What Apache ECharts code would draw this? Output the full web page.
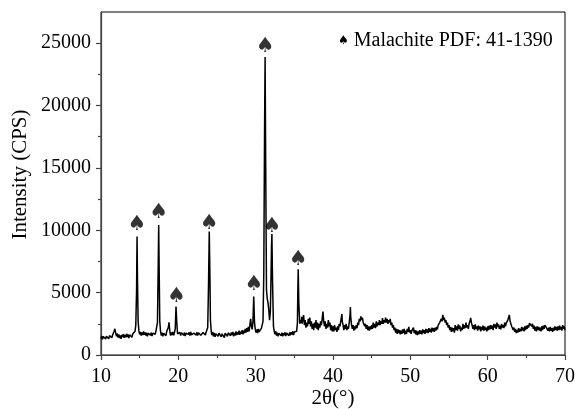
<!DOCTYPE html>
<html>
<head>
<meta charset="utf-8">
<script src="https://cdn.jsdelivr.net/npm/echarts@6/dist/echarts.min.js"></script>
<style>
  html, body { margin: 0; padding: 0; background: #fff; }
  #chart { width: 575px; height: 409px; }
</style>
</head>
<body>
<div id="chart"></div>
<script>
// XRD pattern as [2theta, intensity] pairs
var seg10to20 = [
    [10.0,1300],[10.1,1520],[10.2,1250],[10.3,1480],[10.4,1350],[10.5,1600],[10.6,1280],[10.7,1500],
    [10.8,1380],[10.9,1620],[11.0,1300],[11.1,1550],[11.2,1420],[11.3,1650],[11.4,1380],[11.5,1600],
    [11.6,1700],[11.7,1900],[11.8,2100],[11.9,1750],[12.0,1500],[12.1,1720],[12.2,1400],[12.3,1650],
    [12.4,1350],[12.5,1580],[12.6,1300],[12.7,1620],[12.8,1450],[12.9,1680],[13.0,1380],[13.1,1600],
    [13.2,1420],[13.3,1700],[13.4,1450],[13.5,1650],[13.6,1350],[13.7,1620],[13.8,1480],[13.9,1700],
    [14.0,1420],[14.1,1680],[14.2,1550],[14.3,1750],[14.4,1900],[14.5,2400],[14.6,5200],[14.66,9500],
    [14.72,6000],[14.8,2700],[14.9,1950],[15.0,1650],[15.1,1850],[15.2,1550],[15.3,1800],[15.4,1600],
    [15.5,1900],[15.6,1620],[15.7,1820],[15.8,1550],[15.9,1780],[16.0,1500],[16.1,1750],[16.2,1620],
    [16.3,1850],[16.4,1580],[16.5,1800],[16.6,1520],[16.7,1750],[16.8,1600],[16.9,1880],[17.0,1650],
    [17.1,1900],[17.2,1850],[17.3,2600],[17.4,7200],[17.46,10430],[17.52,7000],[17.6,2700],[17.7,1900],
    [17.8,1550],[17.9,1800],[18.0,1500],[18.1,1750],[18.2,1600],[18.3,1820],[18.4,1550],[18.5,1900],
    [18.6,1800],[18.7,2200],[18.8,2620],[18.9,1900],[19.0,1550],[19.1,1800],[19.2,1600],[19.3,1850],
    [19.4,1580],[19.5,1800],[19.6,2100],[19.7,3880],[19.8,2600],[19.9,1700]
];
var seg20to30 = [
    [20.0,1850],[20.1,1600],[20.2,1820],[20.3,1550],[20.4,1780],[20.5,1620],[20.6,1900],[20.7,1580],
    [20.8,1800],[20.9,1520],[21.0,1750],[21.1,1600],[21.2,1880],[21.3,1650],[21.4,1820],[21.5,1550],
    [21.6,1850],[21.7,1620],[21.8,1780],[21.9,1500],[22.0,1750],[22.1,1650],[22.2,1900],[22.3,1600],
    [22.4,1820],[22.5,1550],[22.6,1780],[22.7,1620],[22.8,1880],[22.9,1580],[23.0,1720],[23.1,1550],
    [23.2,1800],[23.3,1650],[23.4,1900],[23.5,1600],[23.6,1850],[23.7,1750],[23.8,2200],[23.9,5500],
    [24.0,9900],[24.08,6500],[24.15,2800],[24.25,1900],[24.35,1600],[24.45,1850],[24.55,1500],[24.65,1780],
    [24.75,1450],[24.85,1700],[24.95,1550],[25.05,1850],[25.15,1500],[25.25,1750],[25.35,1600],[25.45,1900],
    [25.55,1450],[25.65,1700],[25.75,1550],[25.85,1800],[25.95,1400],[26.05,1750],[26.15,1600],[26.25,1850],
    [26.35,1500],[26.45,1780],[26.55,1620],[26.65,1900],[26.75,1550],[26.85,1800],[26.95,1600],[27.05,1850],
    [27.15,1500],[27.25,1780],[27.35,1550],[27.45,1900],[27.55,1600],[27.65,1820],[27.75,1650],[27.85,1950],
    [27.95,1620],[28.05,1880],[28.15,1700],[28.25,2000],[28.35,1650],[28.45,1950],[28.55,1750],[28.65,2100],
    [28.75,1800],[28.85,2150],[28.95,1850],[29.05,2250],[29.15,1900],[29.25,2400],[29.35,2900],[29.45,2300],
    [29.55,2050],[29.65,2700],[29.75,4680],[29.85,2600],[29.95,2050]
];
var seg30to40 = [
    [30.05,1800],[30.15,2050],[30.25,1750],[30.35,2100],[30.45,1850],[30.55,2000],[30.65,1800],[30.75,2150],
    [30.85,2300],[30.95,2700],[31.05,6500],[31.15,18000],[31.22,23890],[31.3,15000],[31.4,5200],[31.5,4500],
    [31.6,4200],[31.7,3600],[31.8,2800],[31.9,3500],[31.98,6000],[32.05,8800],[32.1,9700],[32.18,6000],
    [32.3,2300],[32.4,1900],[32.5,1650],[32.6,1900],[32.7,1550],[32.8,1800],[32.9,1500],[33.0,1750],
    [33.1,1600],[33.2,1850],[33.3,1550],[33.4,1780],[33.5,1500],[33.6,1750],[33.7,1580],[33.8,1820],
    [33.9,1520],[34.0,1760],[34.1,1600],[34.2,1850],[34.3,1550],[34.4,1800],[34.5,1580],[34.6,1820],
    [34.7,1650],[34.8,1900],[34.9,1600],[35.0,1850],[35.1,1700],[35.2,1950],[35.3,1900],[35.4,2600],
    [35.45,5000],[35.5,6880],[35.58,4200],[35.7,2500],[35.8,2800],[35.9,2600],[35.95,3070],[36.0,2500],
    [36.1,2900],[36.2,3200],[36.3,2400],[36.4,2800],[36.5,2200],[36.6,2600],[36.7,2300],[36.8,2900],
    [36.9,2500],[37.0,3000],[37.1,2300],[37.2,2700],[37.3,2100],[37.4,2500],[37.5,2000],[37.6,2600],
    [37.7,2200],[37.8,2800],[37.9,2100],[38.0,2600],[38.1,2000],[38.2,2500],[38.3,2200],[38.4,2700],
    [38.5,2400],[38.6,2900],[38.7,3480],[38.8,2700],[38.9,2300],[39.0,2700],[39.1,2100],[39.2,2500],
    [39.3,2200],[39.4,2800],[39.5,2300],[39.6,2600],[39.7,2000],[39.8,2400],[39.9,1900]
];
var seg40to55 = [
    [40.0,2300],[40.1,1900],[40.2,2400],[40.3,2000],[40.4,2200],[40.5,1850],[40.6,2300],[40.7,2000],
    [40.8,2500],[40.9,2300],[41.0,2700],[41.1,3100],[41.15,3290],[41.2,2700],[41.3,2400],[41.4,2000],
    [41.5,2400],[41.6,2100],[41.7,2500],[41.8,2000],[41.9,2300],[42.0,2100],[42.1,2600],[42.2,3200],
    [42.25,3850],[42.3,3000],[42.4,2400],[42.5,2100],[42.6,2400],[42.7,1950],[42.8,2300],[42.9,2050],
    [43.0,2400],[43.1,2150],[43.2,2600],[43.3,2400],[43.4,2900],[43.5,2700],[43.6,3100],[43.65,3210],
    [43.7,2800],[43.8,3000],[43.9,2600],[44.0,2700],[44.1,2300],[44.2,2500],[44.3,2100],[44.4,2400],
    [44.5,2000],[44.6,2300],[44.7,1950],[44.8,2300],[44.9,2050],[45.0,2400],[45.1,2100],[45.2,2600],
    [45.3,2200],[45.4,2500],[45.5,2150],[45.6,2700],[45.7,2300],[45.8,2600],[45.9,2400],[46.0,2800],
    [46.1,2400],[46.2,2700],[46.3,2500],[46.4,2950],[46.5,2500],[46.6,2800],[46.7,2600],[46.8,3000],
    [46.9,2600],[47.0,2900],[47.1,2500],[47.2,2800],[47.3,2600],[47.4,2900],[47.5,2400],[47.6,2600],
    [47.7,2200],[47.8,2400],[47.9,2000],[48.0,2200],[48.1,1800],[48.2,2100],[48.3,1700],[48.4,2050],
    [48.5,1750],[48.6,2000],[48.7,1650],[48.8,1950],[48.9,1700],[49.0,2050],[49.1,1750],[49.2,2100],
    [49.3,1650],[49.4,1950],[49.5,1700],[49.6,2100],[49.7,1850],[49.8,2250],[49.9,1800],[50.0,2000],
    [50.1,1700],[50.2,1950],[50.3,1800],[50.4,2200],[50.5,1750],[50.6,2000],[50.7,1650],[50.8,1950],
    [50.9,1600],[51.0,1900],[51.1,1650],[51.2,2000],[51.3,1700],[51.4,1950],[51.5,1650],[51.6,2050],
    [51.7,1750],[51.8,2000],[51.9,1700],[52.0,2100],[52.1,1800],[52.2,2050],[52.3,1750],[52.4,2150],
    [52.5,1850],[52.6,2100],[52.7,1800],[52.8,2200],[52.9,1900],[53.0,2150],[53.1,1850],[53.2,2200],
    [53.3,1950],[53.4,2250],[53.5,2050],[53.6,2400],[53.7,2300],[53.8,2600],[53.9,2500],[54.0,2900],
    [54.1,2700],[54.2,3210],[54.3,2800],[54.4,3000],[54.5,2600],[54.6,2800],[54.7,2400],[54.8,2600],
    [54.9,2200]
];
var seg55to70 = [
    [55.0,2400],[55.1,2000],[55.2,2250],[55.3,1850],[55.4,2200],[55.5,1900],[55.6,2150],[55.7,1800],
    [55.8,2400],[55.9,2000],[56.0,2300],[56.1,1950],[56.2,2450],[56.3,2100],[56.4,2350],[56.5,1900],
    [56.6,2200],[56.7,2000],[56.8,2500],[56.9,2100],[57.0,2400],[57.1,2150],[57.2,2600],[57.3,2200],
    [57.4,2400],[57.5,2100],[57.6,2500],[57.7,2700],[57.8,2970],[57.9,2600],[58.0,2500],[58.1,2100],
    [58.2,2400],[58.3,2000],[58.4,2450],[58.5,2100],[58.6,2300],[58.7,1950],[58.8,2350],[58.9,2050],
    [59.0,2300],[59.1,1900],[59.2,2250],[59.3,2000],[59.4,2350],[59.5,1950],[59.6,2300],[59.7,2000],
    [59.8,2200],[59.9,1900],[60.0,2300],[60.1,2000],[60.2,2350],[60.3,2050],[60.4,2400],[60.5,2100],
    [60.6,2350],[60.7,2000],[60.8,2500],[60.9,2200],[61.0,2450],[61.1,2100],[61.2,2600],[61.3,2250],
    [61.4,2450],[61.5,2100],[61.6,2350],[61.7,2050],[61.8,2500],[61.9,2200],[62.0,2400],[62.1,2150],
    [62.2,2600],[62.3,2300],[62.4,2550],[62.5,2400],[62.6,2800],[62.7,2900],[62.8,3210],[62.9,2700],
    [63.0,2700],[63.1,2300],[63.2,2400],[63.3,2000],[63.4,2200],[63.5,1850],[63.6,2100],[63.7,1750],
    [63.8,2000],[63.9,1800],[64.0,2150],[64.1,1850],[64.2,2100],[64.3,1900],[64.4,2250],[64.5,1950],
    [64.6,2200],[64.7,1900],[64.8,2300],[64.9,2000],[65.0,2350],[65.1,2100],[65.2,2400],[65.3,2200],
    [65.4,2550],[65.5,2400],[65.6,2670],[65.7,2300],[65.8,2500],[65.9,2100],[66.0,2350],[66.1,1950],
    [66.2,2250],[66.3,1900],[66.4,2300],[66.5,2000],[66.6,2250],[66.7,1950],[66.8,2200],[66.9,1900],
    [67.0,2300],[67.1,2000],[67.2,2350],[67.3,2100],[67.4,2400],[67.5,2540],[67.6,2200],[67.7,2300],
    [67.8,1950],[67.9,2200],[68.0,1900],[68.1,2250],[68.2,1950],[68.3,2150],[68.4,1850],[68.5,2200],
    [68.6,1950],[68.7,2300],[68.8,2000],[68.9,2250],[69.0,1950],[69.1,2300],[69.2,2000],[69.3,2350],
    [69.4,2050],[69.5,2250],[69.6,1950],[69.7,2400],[69.8,2100],[69.9,2300],[70.0,2000]
];

// where the spade markers sit (peak position, height of the marker)
var spadeMarks = [
    [14.66,10430],[17.46,11420],[19.74,4680],[24.0,10510],
    [29.78,5620],[31.22,24740],[32.1,10300],[35.5,7620]
];

var xTicks = [10, 20, 30, 40, 50, 60, 70];
var yTicks = [0, 5000, 10000, 15000, 20000, 25000];
var yMinorTicks = [2500, 7500, 12500, 17500, 22500];

var pattern = [].concat(seg10to20, seg20to30, seg30to40, seg40to55, seg55to70);

var serif = '"Liberation Serif", "Times New Roman", serif';

var dom = document.getElementById('chart');
var myChart = echarts.init(dom);

var option = {
    animation: false,
    grid: {
        left: 101, right: 10, top: 12, bottom: 54,
        containLabel: false,
        outerBoundsMode: 'none',
        show: true,
        borderColor: '#000',
        borderWidth: 1
    },
    xAxis: {
        type: 'value',
        min: 10,
        max: 70,
        interval: 10,
        name: '2θ(°)',
        nameLocation: 'middle',
        nameGap: 33,
        nameMoveOverlap: false,
        nameTextStyle: {fontFamily: serif, fontSize: 21, color: '#000'},
        axisLine: {show: true, onZero: false, lineStyle: {color: '#444', width: 1.2}},
        axisTick: {show: true, length: 5, lineStyle: {color: '#444', width: 1.2}},
        minorTick: {show: true, splitNumber: 2, length: 3, lineStyle: {color: '#444', width: 1.2}},
        axisLabel: {fontFamily: serif, fontSize: 20, color: '#000', margin: 12,
            customValues: xTicks},
        splitLine: {show: false}
    },
    yAxis: [
        {
            type: 'value',
            min: 0,
            max: 27500,
            name: 'Intensity (CPS)',
            nameLocation: 'middle',
            nameGap: 70,
            nameMoveOverlap: false,
            nameTextStyle: {fontFamily: serif, fontSize: 21, color: '#000', padding: [0, 0, 0, 18]},
            axisLine: {show: true, onZero: false, lineStyle: {color: '#444', width: 1.2}},
            axisTick: {show: true, length: 5, customValues: yTicks, lineStyle: {color: '#444', width: 1.2}},
            axisLabel: {fontFamily: serif, fontSize: 20, color: '#000', margin: 10,
                customValues: yTicks,
                formatter: function (v) { return String(v); }},
            splitLine: {show: false}
        },
        {
            type: 'value',
            min: 0,
            max: 27500,
            position: 'left',
            axisLine: {show: false},
            axisTick: {show: true, length: 3, customValues: yMinorTicks, lineStyle: {color: '#444', width: 1.2}},
            axisLabel: {show: false},
            splitLine: {show: false}
        }
    ],
    graphic: [
        {
            type: 'text',
            left: 338,
            top: 31,
            style: {
                text: '{s|♠} Malachite PDF: 41-1390',
                rich: {
                    s: {fontFamily: '"DejaVu Sans"', fontSize: 12, fill: '#000'}
                },
                fontFamily: serif,
                fontSize: 20,
                fill: '#000'
            }
        }
    ],
    series: [
        {
            name: 'Malachite',
            type: 'line',
            data: pattern,
            showSymbol: false,
            symbol: 'none',
            lineStyle: {color: '#000', width: 1.5},
            z: 3
        },
        {
            name: 'peaks',
            type: 'scatter',
            data: spadeMarks,
            symbolSize: 1,
            itemStyle: {color: 'transparent'},
            label: {
                show: true,
                position: 'inside',
                formatter: '♠',
                fontFamily: '"DejaVu Sans"',
                fontSize: 21,
                color: '#000'
            },
            z: 4
        }
    ]
};

if (option && typeof option === "object") {
    myChart.setOption(option, true);
}
</script>
</body>
</html>
